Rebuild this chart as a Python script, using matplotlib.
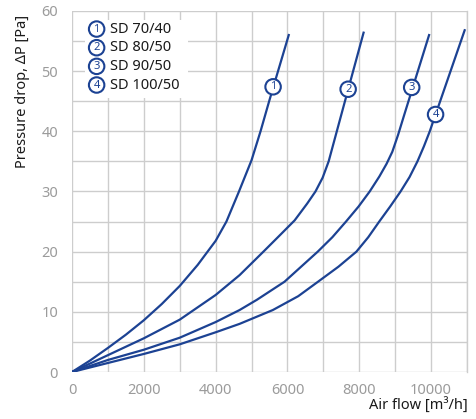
import numpy as np
from matplotlib import pyplot as plt

# air flow [m3/h] and pressure drop [Pa]
flow_1 = [0, 500, 1000, 1500, 2000, 2500, 3000, 3500, 4000, 4300, 4650, 5000, 5250, 5490, 5608, 6036]
dp_1 = [0, 1.9, 4.0, 6.2, 8.6, 11.3, 14.3, 17.8, 21.8, 25.0, 30.0, 35.2, 40.0, 45.0, 47.4, 56.0]

flow_2 = [0, 1000, 2000, 3000, 4000, 4667, 5330, 5750, 6200, 6550, 6780, 6980, 7147, 7374, 7601, 7692, 8120]
dp_2 = [0, 2.8, 5.6, 8.7, 12.8, 16.1, 20.0, 22.5, 25.2, 28.0, 30.0, 32.3, 35.0, 40.0, 45.0, 47.0, 56.4]

flow_3 = [0, 1000, 2000, 3000, 4000, 4667, 5148, 5917, 6843, 7250, 7630, 7980, 8290, 8560, 8760, 8920, 9080, 9250, 9944]
dp_3 = [0, 2.0, 3.7, 5.7, 8.3, 10.3, 12.0, 15.0, 20.0, 22.4, 25.0, 27.5, 30.0, 32.5, 34.6, 36.6, 39.4, 42.7, 56.0]

flow_4 = [0, 1000, 2000, 3000, 4000, 4667, 5593, 6300, 6850, 7420, 7920, 8250, 8556, 8860, 9150, 9400, 9620, 9800, 9963, 10935]
dp_4 = [0, 1.5, 3.0, 4.6, 6.6, 8.0, 10.3, 12.6, 15.0, 17.5, 20.0, 22.4, 25.0, 27.5, 30.0, 32.4, 35.0, 37.5, 40.0, 56.8]

names = ['SD 70/40', 'SD 80/50', 'SD 90/50', 'SD 100/50']
# where the numbered circles sit on each curve
tag_x = [5600, 7690, 9460, 10125]
tag_y = [47.4, 47.0, 47.3, 42.8]

blue = '#1c4293'
grey = '#9b9b9b'
plt.rcParams['font.family'] = ['Noto Sans', 'DejaVu Sans']

fig = plt.figure(figsize=(4.77, 4.19), dpi=100)
ax = fig.add_axes([72/477, 47/419, 395/477, 361/419])

for fx, py in [(flow_1, dp_1), (flow_2, dp_2), (flow_3, dp_3), (flow_4, dp_4)]:
    ax.plot(fx, py, color=blue, lw=1.6, solid_joinstyle='round', zorder=3)

for i in range(4):
    ax.text(tag_x[i], tag_y[i], str(i+1), ha='center', va='center', fontsize=8,
            fontweight='bold', color=blue, zorder=5,
            bbox=dict(boxstyle='circle,pad=0.2', fc='white', ec=blue, lw=1.5))

ax.set_xlim(0, 11000)
ax.set_ylim(0, 60)
ax.set_xticks(np.arange(0, 11001, 2000))
ax.set_yticks(np.arange(0, 61, 10))
ax.set_xticks(np.arange(0, 11001, 1000), minor=True)
ax.set_yticks(np.arange(0, 61, 5), minor=True)
ax.grid(which='both', color='#cdcdcd', lw=1.0, zorder=0)
ax.set_axisbelow(True)
for s in ['top', 'left', 'bottom']:
    ax.spines[s].set_visible(False)
ax.spines['right'].set_color('#cdcdcd')
ax.spines['right'].set_linewidth(1.0)
ax.tick_params(which='both', length=0, colors=grey, labelsize=10.5)
ax.tick_params(axis='x', pad=8)
ax.tick_params(axis='y', pad=10)

# legend box
ax.add_patch(plt.Rectangle((361, 45.6), 2861, 12.9, fc='white', ec='none', zorder=2))
for i in range(4):
    yy = 57.0 - i*3.1
    ax.text(686, yy, str(i+1), ha='center', va='center', fontsize=8,
            fontweight='bold', color=blue, zorder=5,
            bbox=dict(boxstyle='circle,pad=0.2', fc='white', ec=blue, lw=1.5))
    ax.text(1056, yy, names[i], ha='left', va='center', fontsize=10.5,
            color='#1a1a1a', zorder=5)

fig.text(23/477, 1-91/419, 'Pressure drop, \u0394P [Pa]', rotation=90,
         ha='center', va='center', fontsize=10.5, color='#1a1a1a')
fig.text(468/477, 1-406/419, 'Air flow [m\u00b3/h]', ha='right', va='center',
         fontsize=10.5, color='#1a1a1a')

plt.savefig('out.png', dpi=100)
